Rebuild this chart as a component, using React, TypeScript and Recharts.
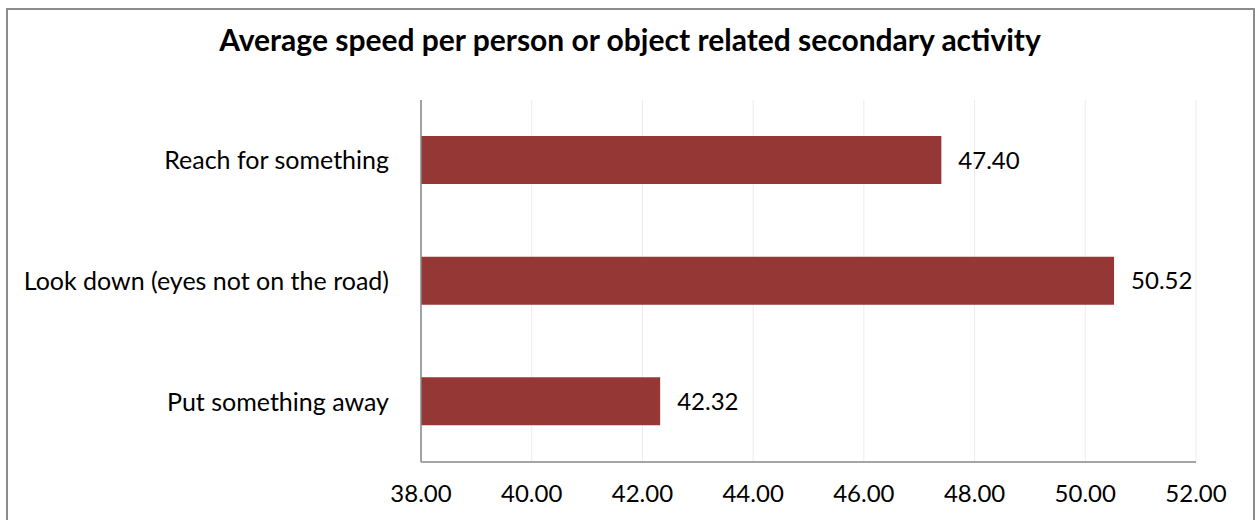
import { Bar, BarChart, CartesianGrid, LabelList, XAxis, YAxis } from "recharts";

const activities = ["Reach for something", "Look down (eyes not on the road)", "Put something away"];
const avgSpeed = [47.4, 50.52, 42.32];
const speedTicks = [38, 40, 42, 44, 46, 48, 50, 52];

const data = activities.map((name, i) => ({ name, value: avgSpeed[i] }));

const font = "Lato, 'Open Sans', sans-serif";
const axisGray = "#878787";

export default function App() {
  return (
    <div
      style={{
        position: "absolute",
        left: 0,
        top: 0,
        width: 1255,
        height: 520,
        overflow: "hidden",
        background: "#fff",
        fontFamily: font
      }}
    >
      {/* chart frame, bottom edge runs past the view */}
      <div
        style={{
          position: "absolute",
          left: 6,
          top: 8,
          width: 1249,
          height: 540,
          border: "2px solid #8c8c8c",
          boxSizing: "border-box"
        }}
      />
      <div
        style={{
          position: "absolute",
          left: 0,
          top: 21,
          width: 1260,
          textAlign: "center",
          fontSize: 30,
          fontWeight: 700,
          color: "#000",
          lineHeight: "36px"
        }}
      >
        Average speed per person or object related secondary activity
      </div>
      <div style={{ position: "absolute", left: 0, top: 0 }}>
        <BarChart
          width={1255}
          height={520}
          layout="vertical"
          data={data}
          margin={{ top: 100, right: 59, bottom: 0, left: 0 }}
        >
          <CartesianGrid horizontal={false} stroke="#ececec" />
          <XAxis
            type="number"
            domain={[38, 52]}
            ticks={speedTicks}
            allowDataOverflow
            height={58}
            tickFormatter={(v) => Number(v).toFixed(2)}
            axisLine={{ stroke: axisGray, strokeWidth: 1.5 }}
            tickLine={false}
            tickSize={0}
            tickMargin={23}
            tick={{ fill: "#000", fontSize: 24, fontFamily: font }}
          />
          <YAxis
            type="category"
            dataKey="name"
            width={421}
            axisLine={{ stroke: axisGray, strokeWidth: 1.5 }}
            tickLine={false}
            tickSize={0}
            tickMargin={32}
            tick={{ fill: "#000", fontSize: 25, fontFamily: font }}
          />
          <Bar dataKey="value" fill="#953735" barSize={48} isAnimationActive={false}>
            <LabelList
              dataKey="value"
              position="right"
              offset={17}
              formatter={(v: any) => Number(v).toFixed(2)}
              fill="#000"
              fontSize={24}
              fontFamily={font}
            />
          </Bar>
        </BarChart>
      </div>
    </div>
  );
}
